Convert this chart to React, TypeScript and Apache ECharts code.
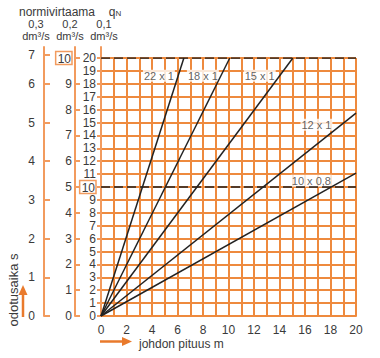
import React, { useEffect, useRef } from "react";
import * as echarts from "echarts";

// ---- data ----
const xLabelValues = [0, 2, 4, 6, 8, 10, 12, 14, 16, 18, 20];
const flowMidValues = [0, 1, 2, 3, 4, 5, 6, 7, 8, 9, 10];
const secondsTickValues = [0, 1, 2, 3, 4, 5, 6, 6.75];
const secondsTickLabels = ["0", "1", "2", "3", "4", "5", "6", "7"];

const pipeNames = ["22 x 1", "18 x 1", "15 x 1", "12 x 1", "10 x 0,8"];
const pipeEndX = [6.5, 10.1, 15.05, 20, 20];
const pipeEndY = [20, 20, 20, 15.73, 11.07];
const pipeLabelX = [4.54, 7.99, 12.45, 16.9, 16.5];
const pipeLabelY = [18.62, 18.62, 18.62, 14.82, 10.49];
const dashedLevels = [10, 20];
const headerFlows = ["0,3", "0,2", "0,1"];

const FONT = "'Liberation Sans', Arial, sans-serif";
const TXT = "#3a3a3a";
const GRID_OR = "#EE8A3E";
const AXIS_OR = "#F29B5E";
const ARROW_OR = "#E97A2C";

export default function App() {
  const ref = useRef<HTMLDivElement>(null);
  useEffect(() => {
    if (!ref.current) return;
    const chart = echarts.init(ref.current, undefined, { renderer: "svg" });
    const mainTop = 58;
    const mainH = 258;
    const leftTop = 47;
    const leftH = 269;
    const extMax = (20 * leftH) / mainH;

    const pipeSeries = pipeNames.map((n, i) => ({
      type: "line",
      name: n,
      xAxisIndex: 0,
      yAxisIndex: 0,
      data: [
        [0, 0],
        [pipeEndX[i], pipeEndY[i]],
      ],
      symbol: "none",
      z: 5,
      lineStyle: { color: "#222", width: 1.5 },
    }));
    const dashSeries = dashedLevels.map((lv) => ({
      type: "line",
      xAxisIndex: 0,
      yAxisIndex: 0,
      data: [
        [0, lv],
        [20, lv],
      ],
      symbol: "none",
      z: 5,
      lineStyle: { color: "#222", width: 1.5, type: [9, 4] },
    }));
    const labelSeries = {
      type: "scatter",
      xAxisIndex: 0,
      yAxisIndex: 0,
      symbolSize: 0,
      z: 4,
      data: pipeNames.map((n, i) => ({ name: n, value: [pipeLabelX[i], pipeLabelY[i]] })),
      label: {
        show: true,
        position: "inside",
        formatter: (p: any) => p.name,
        color: TXT,
        fontFamily: FONT,
        fontSize: 11,
        backgroundColor: "#fff",
        padding: [1, 1, 0, 1],
      },
    };

    const headerX = [36, 70, 104];
    const headerGraphics: any[] = headerFlows.map((f, i) => ({
      type: "text",
      x: headerX[i],
      y: 18.5,
      style: {
        text: `${f}\ndm³/s`,
        align: "center",
        verticalAlign: "top",
        lineHeight: 11.5,
        fill: TXT,
        font: `11px ${FONT}`,
      },
    }));

    chart.setOption({
      animation: false,
      grid: [
        { left: 101, top: mainTop, width: 255, height: mainH },
        { left: 101, top: leftTop, width: 255, height: leftH },
      ],
      xAxis: [
        {
          type: "value",
          gridIndex: 0,
          min: 0,
          max: 20,
          interval: 1,
          axisLine: { show: true, lineStyle: { color: GRID_OR, width: 2 } },
          axisTick: { show: false },
          splitLine: { show: true, lineStyle: { color: GRID_OR, width: 2 } },
          axisLabel: {
            customValues: xLabelValues,
            margin: 8,
            color: TXT,
            fontFamily: FONT,
            fontSize: 12,
          },
        },
        { type: "value", gridIndex: 1, min: 0, max: 20, show: false },
      ],
      yAxis: [
        {
          type: "value",
          gridIndex: 0,
          min: 0,
          max: 20,
          interval: 1,
          axisLine: { show: true, lineStyle: { color: AXIS_OR, width: 2 } },
          axisTick: { show: true, length: 4, lineStyle: { color: AXIS_OR, width: 2 } },
          splitLine: { show: true, lineStyle: { color: GRID_OR, width: 2 } },
          axisLabel: {
            margin: 5,
            color: TXT,
            fontFamily: FONT,
            fontSize: 12,
            formatter: (v: number) => (v === 10 ? "{box|10}" : String(v)),
            rich: {
              box: {
                color: TXT,
                fontFamily: FONT,
                fontSize: 12,
                borderColor: AXIS_OR,
                borderWidth: 1.5,
                padding: [1, 1, 0, 2],
              },
            },
          },
        },
        {
          type: "value",
          gridIndex: 1,
          position: "left",
          min: 0,
          max: extMax,
          axisLine: { show: true, lineStyle: { color: AXIS_OR, width: 2 } },
          axisTick: { show: false },
          axisLabel: { show: false },
          splitLine: { show: false },
        },
        {
          type: "value",
          gridIndex: 1,
          position: "left",
          offset: 26,
          min: 0,
          max: extMax / 2,
          axisLine: { show: true, lineStyle: { color: AXIS_OR, width: 2 } },
          axisTick: {
            show: true,
            inside: true,
            length: 5,
            customValues: flowMidValues,
            lineStyle: { color: AXIS_OR, width: 2 },
          },
          splitLine: { show: false },
          axisLabel: {
            customValues: flowMidValues,
            margin: 3,
            color: TXT,
            fontFamily: FONT,
            fontSize: 12,
            formatter: (v: number) => (v === 10 ? "{box|10}" : String(v)),
            rich: {
              box: {
                color: TXT,
                fontFamily: FONT,
                fontSize: 12,
                borderColor: AXIS_OR,
                borderWidth: 1.5,
                padding: [1, 1, 0, 2],
              },
            },
          },
        },
        {
          type: "value",
          gridIndex: 1,
          position: "left",
          offset: 57,
          min: 0,
          max: extMax / 3,
          axisLine: { show: true, lineStyle: { color: AXIS_OR, width: 2 } },
          axisTick: {
            show: true,
            inside: true,
            length: 6,
            customValues: secondsTickValues,
            lineStyle: { color: AXIS_OR, width: 2 },
          },
          splitLine: { show: false },
          axisLabel: {
            customValues: secondsTickValues,
            margin: 9,
            color: TXT,
            fontFamily: FONT,
            fontSize: 12,
            formatter: (v: number) => {
              const idx = secondsTickValues.indexOf(v);
              return idx >= 0 ? secondsTickLabels[idx] : "";
            },
          },
        },
      ],
      graphic: [
        {
          type: "text",
          x: 57,
          y: 11.5,
          style: { text: "normivirtaama", align: "center", verticalAlign: "middle", fill: TXT, font: `12px ${FONT}` },
        },
        {
          type: "text",
          x: 115,
          y: 11.5,
          style: {
            text: "{q|q}{n|N}",
            align: "center",
            verticalAlign: "middle",
            rich: {
              q: { fill: TXT, fontSize: 12, fontFamily: FONT },
              n: { fill: TXT, fontSize: 8, fontFamily: FONT, verticalAlign: "bottom", padding: [4, 0, 0, 0] },
            },
          },
        },
        ...headerGraphics,
        {
          type: "line",
          shape: { x1: 100, y1: 341.5, x2: 124, y2: 341.5 },
          style: { stroke: ARROW_OR, lineWidth: 2.5 },
        },
        {
          type: "polygon",
          shape: { points: [[122, 337], [132, 341.5], [122, 346]] },
          style: { fill: ARROW_OR },
        },
        {
          type: "text",
          x: 139,
          y: 344,
          style: { text: "johdon pituus m", align: "left", verticalAlign: "middle", fill: TXT, font: `12px ${FONT}` },
        },
        {
          type: "line",
          shape: { x1: 23, y1: 317, x2: 23, y2: 293 },
          style: { stroke: ARROW_OR, lineWidth: 2.5 },
        },
        {
          type: "polygon",
          shape: { points: [[18.5, 295], [23, 285], [27.5, 295]] },
          style: { fill: ARROW_OR },
        },
        {
          type: "text",
          x: 13,
          y: 290,
          rotation: Math.PI / 2,
          style: { text: "odotusaika s", align: "center", verticalAlign: "middle", fill: TXT, font: `13px ${FONT}` },
        },
      ],
      series: [...pipeSeries, ...dashSeries, labelSeries],
    });
    return () => chart.dispose();
  }, []);
  return (
    <div
      ref={ref}
      style={{ position: "absolute", left: 0, top: 0, width: 380, height: 358, background: "#fff" }}
    />
  );
}
